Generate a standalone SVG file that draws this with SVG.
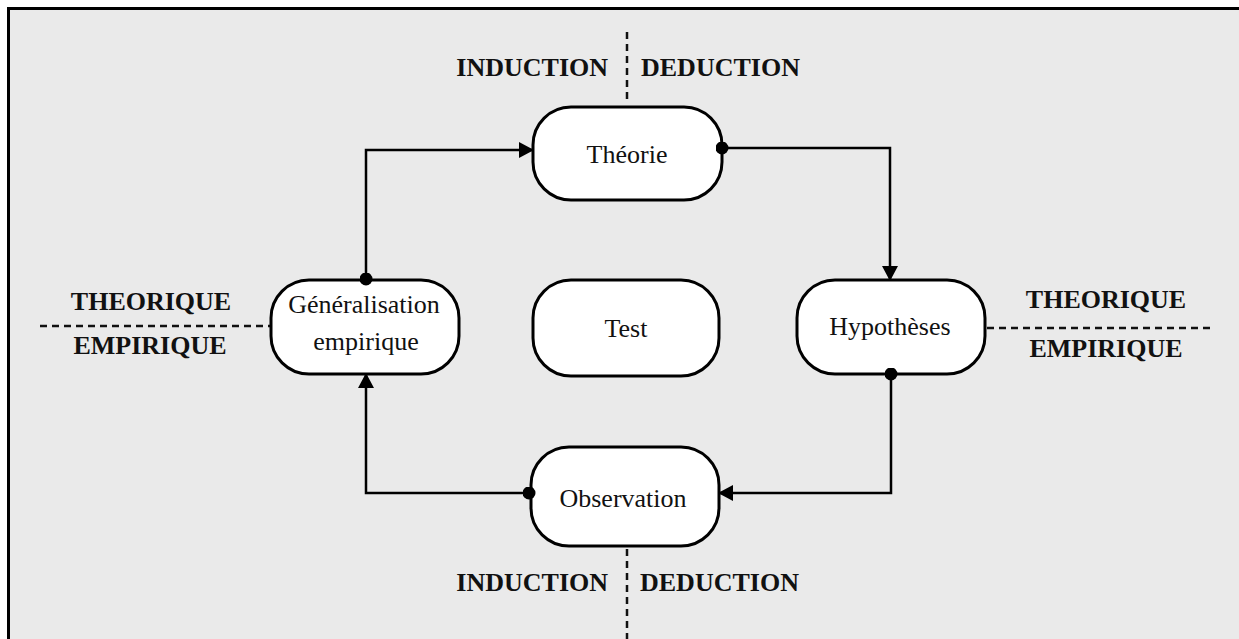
<svg xmlns="http://www.w3.org/2000/svg" width="1239" height="639" viewBox="0 0 1239 639">
  <style>
    .node rect { fill: #ffffff; stroke: #000000; stroke-width: 3; }
    .node text { font-family: "Liberation Serif", "Times New Roman", serif; font-size: 26px; fill: #111111; text-anchor: middle; }
    .label { font-family: "Liberation Serif", "Times New Roman", serif; font-size: 26px; font-weight: bold; fill: #111111; }
    .divider { stroke: #111111; stroke-width: 2.5; stroke-dasharray: 7 5; fill: none; }
    .link { stroke: #000000; stroke-width: 2.5; fill: none; marker-start: url(#dot); marker-end: url(#arrow); }
  </style>
  <defs>
    <marker id="arrow" viewBox="0 0 15 16" markerWidth="15" markerHeight="16" refX="14" refY="8" orient="auto" markerUnits="userSpaceOnUse">
      <path d="M0,0 L15,8 L0,16 Z" fill="#000000"/>
    </marker>
    <marker id="dot" viewBox="0 0 13 13" markerWidth="13" markerHeight="13" refX="6.5" refY="6.5" orient="auto" markerUnits="userSpaceOnUse">
      <circle cx="6.5" cy="6.5" r="6.5" fill="#000000"/>
    </marker>
  </defs>

  <!-- page background and frame -->
  <rect x="0" y="0" width="1239" height="639" fill="#ffffff"/>
  <rect x="8.5" y="8.5" width="1300" height="700" fill="#eaeaea" stroke="#000000" stroke-width="3"/>

  <!-- dashed dividers -->
  <g id="dividers">
    <line class="divider" x1="627" y1="32" x2="627" y2="104"/>
    <line class="divider" x1="627" y1="549" x2="627" y2="639"/>
    <line class="divider" x1="40" y1="326" x2="270" y2="326"/>
    <line class="divider" x1="987" y1="328" x2="1215" y2="328"/>
  </g>

  <!-- region labels -->
  <g id="labels">
    <text class="label" x="608" y="76" text-anchor="end">INDUCTION</text>
    <text class="label" x="641" y="76">DEDUCTION</text>
    <text class="label" x="608" y="591" text-anchor="end">INDUCTION</text>
    <text class="label" x="640" y="591">DEDUCTION</text>
    <text class="label" x="151" y="310" text-anchor="middle">THEORIQUE</text>
    <text class="label" x="150" y="354" text-anchor="middle">EMPIRIQUE</text>
    <text class="label" x="1106" y="308" text-anchor="middle">THEORIQUE</text>
    <text class="label" x="1106" y="357" text-anchor="middle">EMPIRIQUE</text>
  </g>

  <!-- nodes -->
  <g id="theorie" class="node">
    <rect x="533" y="107" width="189" height="93" rx="38" ry="38"/>
    <text x="627" y="163">Théorie</text>
  </g>
  <g id="test" class="node">
    <rect x="533" y="280" width="186" height="96" rx="38" ry="38"/>
    <text x="626" y="337">Test</text>
  </g>
  <g id="generalisation" class="node">
    <rect x="271" y="280" width="188" height="94" rx="38" ry="38"/>
    <text x="364" y="313">Généralisation</text>
    <text x="366" y="350">empirique</text>
  </g>
  <g id="hypotheses" class="node">
    <rect x="797" y="280" width="188" height="94" rx="38" ry="38"/>
    <text x="890" y="335">Hypothèses</text>
  </g>
  <g id="observation" class="node">
    <rect x="531" y="447" width="188" height="99" rx="38" ry="38"/>
    <text x="623" y="507">Observation</text>
  </g>

  <!-- connectors, drawn over the node borders so the start dots stay whole -->
  <g id="connectors">
    <path class="link" d="M366,279 V150 H533"/>
    <path class="link" d="M722,148 H890 V280"/>
    <path class="link" d="M891,374 V493 H719"/>
    <path class="link" d="M529,493 H366 V374"/>
  </g>
</svg>
